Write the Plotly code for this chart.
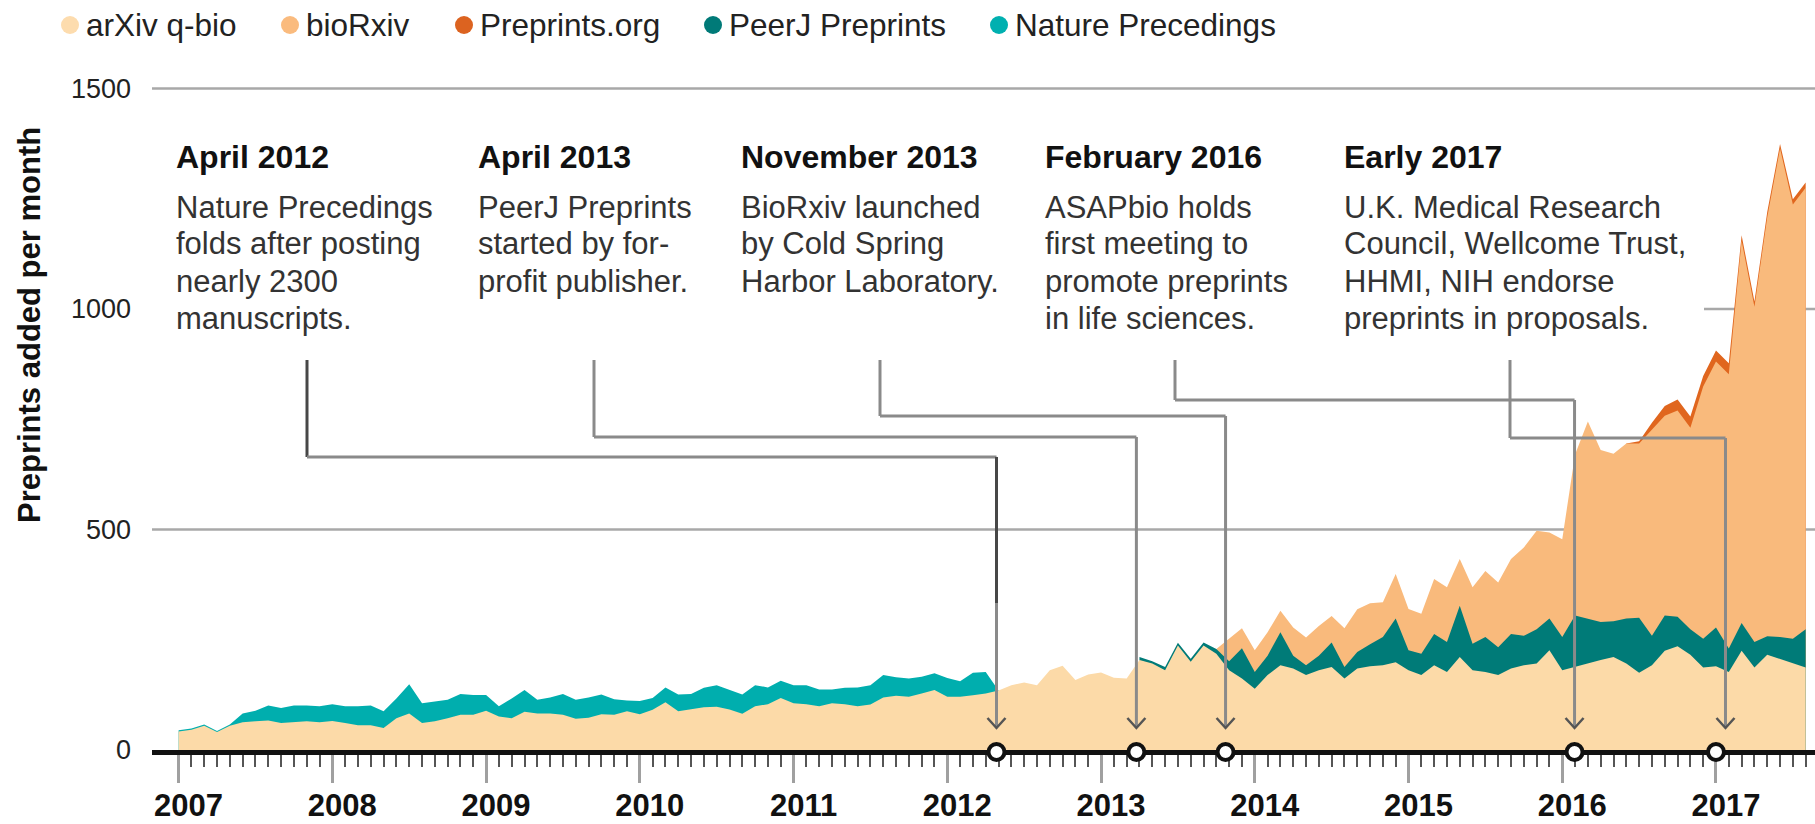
import plotly.graph_objects as go

# ---------------- data ----------------
start_year = 2007
n_months = 128                      # Jan 2007 .. Aug 2017
month_x = [start_year + i / 12 for i in range(n_months)]
year_ticks = list(range(2007, 2018))
y_ticks = [0, 500, 1000, 1500]

arxiv_qbio = [
    42, 46, 55, 41, 55, 63, 65, 67, 61, 63, 65, 63,
    66, 61, 56, 56, 50, 72, 83, 61, 65, 72, 80, 80,
    89, 76, 72, 87, 83, 83, 80, 71, 73, 81, 80, 88,
    81, 91, 108, 88, 92, 97, 98, 92, 82, 99, 104, 118,
    106, 104, 99, 106, 104, 99, 103, 119, 123, 121, 128, 136,
    121, 121, 124, 128, 135, 147, 153, 147, 181, 191, 159, 171,
    176, 164, 162, 204, 196, 181, 237, 200, 237, 218, 181, 162,
    139, 170, 192, 185, 170, 181, 188, 162, 185, 190, 192, 199,
    181, 170, 192, 177, 211, 181, 177, 170, 185, 192, 196, 226,
    181, 189, 196, 204, 211, 196, 175, 192, 225, 235, 216, 187,
    190, 177, 225, 187, 216, 206, 196, 187,
]

nature_precedings = [
    3, 3, 3, 2, 3, 20, 24, 34, 34, 38, 36, 36,
    38, 38, 43, 45, 38, 45, 66, 45, 45, 42, 47, 45,
    36, 23, 45, 49, 31, 36, 47, 43, 46, 45, 35, 24,
    30, 27, 34, 38, 35, 44, 49, 45, 44, 48, 38, 39,
    41, 43, 38, 31, 37, 43, 44, 51, 42, 41, 38, 38,
    42, 35, 51, 49, 0,
] + [None] * 63

peerj_preprints = [None] * 75 + [
    7, 5, 7, 6, 7, 7, 11, 20, 69, 38,
    44, 75, 29, 22, 33, 56, 26, 37, 50, 64,
    99, 45, 48, 71, 68, 116, 60, 79, 63, 78,
    67, 78, 72, 75, 116, 102, 86, 81, 102, 125,
    67, 80, 67, 58, 65, 88, 53, 63, 58, 42,
    50, 56, 87,
]

biorxiv = [None] * 81 + [
    0,
    51, 45, 49, 53, 49, 64, 63, 67, 60, 88,
    97, 93, 79, 101, 94, 91, 125, 124, 106, 128,
    150, 147, 170, 200, 223, 195, 222, 365, 447, 390,
    380, 397, 395, 468, 453, 468, 457, 572, 603, 622,
    867, 760, 950, 1108, 985, 1001,
]

preprints_org = [None] * 113 + [0, 5, 15, 22, 25, 25, 24, 25, 25, 12, 12, 12, 10, 12, 12]

event_dates = [2012.32, 2013.23, 2013.81, 2016.08, 2017.0]
event_titles = ["April 2012", "April 2013", "November 2013", "February 2016", "Early 2017"]
event_texts = [
    ["Nature Precedings", "folds after posting", "nearly 2300", "manuscripts."],
    ["PeerJ Preprints", "started by for-", "profit publisher."],
    ["BioRxiv launched", "by Cold Spring", "Harbor Laboratory."],
    ["ASAPbio holds", "first meeting to", "promote preprints", "in life sciences."],
    ["U.K. Medical Research", "Council, Wellcome Trust,", "HHMI, NIH endorse", "preprints in proposals."],
]

legend_names = ["arXiv q-bio", "bioRxiv", "Preprints.org", "PeerJ Preprints", "Nature Precedings"]

# ---------------- styles / layout geometry ----------------
FONT = "Liberation Sans, Arial, sans-serif"
W, H = 1815, 824
L, R, T, B = 152, 1815, 40, 750          # plot area in pixels
X0, X1 = 2006.827, 2017.644
Y0, Y1 = 0, 1610

colors = {
    "arXiv q-bio": "#FCDAA8",
    "bioRxiv": "#F9BA7C",
    "Preprints.org": "#E0661E",
    "PeerJ Preprints": "#007B78",
    "Nature Precedings": "#00AEAE",
}
legend_dot_colors = {
    "arXiv q-bio": "#FDDCAE",
    "bioRxiv": "#FABB7E",
    "Preprints.org": "#DC6320",
    "PeerJ Preprints": "#007A78",
    "Nature Precedings": "#00B0B0",
}


def px2x(px):
    return X0 + (px - L) / (R - L) * (X1 - X0)


def py2y(py):
    return Y0 + (B - py) / (B - T) * (Y1 - Y0)


def x2px(x):
    return L + (x - X0) / (X1 - X0) * (R - L)


def pxp(px):
    return (px - L) / (R - L)


def pyp(py):
    return (B - py) / (B - T)


fig = go.Figure()

# stacked layers, bottom to top
layers = [
    ("arXiv q-bio", arxiv_qbio),
    ("Nature Precedings", nature_precedings),
    ("PeerJ Preprints", peerj_preprints),
    ("bioRxiv", biorxiv),
    ("Preprints.org", preprints_org),
]
cum = [0] * n_months
layer_tops = []
for name, vals in layers:
    xs, ys = [], []
    for i in range(n_months):
        if vals[i] is not None:
            xs.append(month_x[i])
            ys.append(cum[i] + vals[i])
    cum = [cum[i] + (vals[i] or 0) for i in range(n_months)]
    layer_tops.append((name, xs, ys))

# paint from the top layer downward so each lower layer covers the one above it
for name, xs, ys in reversed(layer_tops):
    fig.add_trace(go.Scatter(
        x=xs, y=ys, mode="lines", fill="tozeroy",
        line=dict(width=0, color=colors[name]),
        fillcolor=colors[name], name=name, showlegend=False, hoverinfo="skip",
    ))

shapes = []
# gridlines
grid_col = "#A8A8A8"
for v in (500, 1500):
    shapes.append(dict(type="line", xref="paper", yref="y", x0=0, x1=1, y0=v, y1=v,
                       line=dict(color=grid_col, width=2.5), layer="below"))
shapes.append(dict(type="line", xref="x", yref="y", x0=px2x(1704), x1=X1, y0=1000, y1=1000,
                   line=dict(color=grid_col, width=2.5), layer="below"))

# leader lines
text_left_px = [174, 476, 739, 1043, 1342]
stem_px = [307, 594, 880, 1175, 1510]
elbow_py = [457, 437, 416, 400, 438]
target_dx = [0, 0, 0, 0, 9.5]
start_py, tip_py = 360, 728
lead_col = "#8A8A8A"
for k in range(5):
    tx = x2px(event_dates[k]) + target_dx[k]
    c_v = "#474747" if k == 0 else lead_col
    segs = [
        ((stem_px[k], start_py), (stem_px[k], elbow_py[k]), c_v),
        ((stem_px[k], elbow_py[k]), (tx, elbow_py[k]), lead_col),
    ]
    if k == 0:
        segs.append(((tx, elbow_py[k]), (tx, 603), c_v))
        segs.append(((tx, 603), (tx, tip_py), lead_col))
    else:
        segs.append(((tx, elbow_py[k]), (tx, tip_py), lead_col))
    for (a, b, c) in segs:
        shapes.append(dict(type="line", xref="x", yref="y",
                           x0=px2x(a[0]), y0=py2y(a[1]), x1=px2x(b[0]), y1=py2y(b[1]),
                           line=dict(color=c, width=3), layer="above"))
    # open chevron arrow head
    path = "M {},{} L {},{} L {},{}".format(
        px2x(tx - 9), py2y(tip_py - 10), px2x(tx), py2y(tip_py), px2x(tx + 9), py2y(tip_py - 10))
    shapes.append(dict(type="path", xref="x", yref="y", path=path,
                       line=dict(color="#555555", width=2.5), layer="above"))

# event markers on the time axis (circles anchored at the event dates)
for d in event_dates:
    shapes.append(dict(type="circle", xref="x", yref="paper",
                       xsizemode="pixel", ysizemode="pixel",
                       xanchor=d, yanchor=pyp(752),
                       x0=-8, x1=8, y0=-8, y1=8,
                       fillcolor="white", line=dict(color="#111111", width=4), layer="above"))

# legend dots
legend_dot_px = [70, 290, 464, 713, 999]
legend_py = 25
for name, dx in zip(legend_names, legend_dot_px):
    shapes.append(dict(type="circle", xref="paper", yref="paper",
                       xsizemode="pixel", ysizemode="pixel",
                       xanchor=pxp(dx), yanchor=pyp(legend_py),
                       x0=-9, x1=9, y0=-9, y1=9,
                       fillcolor=legend_dot_colors[name], line=dict(width=0)))

annotations = []
for name, dx in zip(legend_names, legend_dot_px):
    annotations.append(dict(xref="paper", yref="paper", x=pxp(dx + 14), y=pyp(legend_py),
                            xanchor="left", yanchor="middle", showarrow=False, text=name,
                            font=dict(family=FONT, size=31.5, color="#222222")))

# event texts
title_py = 157
body_first_py = 207
line_step = 37
for k in range(5):
    annotations.append(dict(xref="paper", yref="paper", x=pxp(text_left_px[k]), y=pyp(title_py),
                            xanchor="left", yanchor="middle", showarrow=False,
                            text="<b>" + event_titles[k] + "</b>", align="left",
                            font=dict(family=FONT, size=32, color="#111111")))
    for j, line in enumerate(event_texts[k]):
        annotations.append(dict(xref="paper", yref="paper", x=pxp(text_left_px[k]),
                                y=pyp(body_first_py + j * line_step),
                                xanchor="left", yanchor="middle", showarrow=False,
                                text=line, align="left",
                                font=dict(family=FONT, size=31, color="#333333")))

# y-axis title
annotations.append(dict(xref="paper", yref="paper", x=pxp(29), y=pyp(325),
                        xanchor="center", yanchor="middle", showarrow=False, textangle=-90,
                        text="<b>Preprints added per month</b>",
                        font=dict(family=FONT, size=31, color="#111111")))

fig.update_layout(
    width=W, height=H,
    margin=dict(l=L, r=W - R, t=T, b=H - B, pad=0),
    paper_bgcolor="white", plot_bgcolor="white",
    showlegend=False, hovermode=False,
    shapes=shapes, annotations=annotations,
    xaxis=dict(
        range=[X0, X1], showgrid=False, zeroline=False,
        showline=True, linecolor="#111111", linewidth=5,
        tickmode="array", tickvals=year_ticks, ticktext=[str(y) for y in year_ticks],
        ticks="outside", ticklen=28, tickwidth=3, tickcolor="#A0A0A0",
        tickfont=dict(family=FONT, size=31, color="#111111", weight="bold"),
        ticklabelshift=10, ticklabelstandoff=-4,
        minor=dict(tickmode="array", tickvals=month_x + [start_year + n_months / 12],
                   ticks="outside", ticklen=12, tickwidth=2, tickcolor="#555555"),
        layer="below traces", fixedrange=True,
    ),
    yaxis=dict(
        range=[Y0, Y1], showgrid=False, zeroline=False, showline=False,
        tickmode="array", tickvals=y_ticks, ticks="",
        tickfont=dict(family=FONT, size=27, color="#222222"),
        ticklabelstandoff=20, fixedrange=True,
    ),
)

fig.write_html("out.html", config={"displayModeBar": False, "staticPlot": True},
               post_script="document.body.style.margin='0px';")
